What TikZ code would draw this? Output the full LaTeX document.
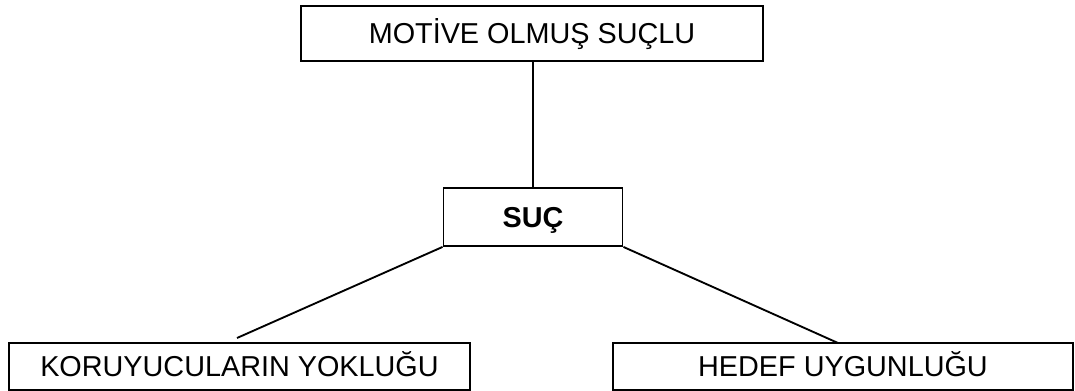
\documentclass[tikz,border=0pt]{standalone}
\usepackage{fontspec}
\setmainfont{Liberation Sans}
\usetikzlibrary{positioning}

\begin{document}
\begin{tikzpicture}
[-,x=0.75pt,y=-0.75pt,%
  lineDecorate/.style={-,line width=1.4pt},%
  boxDecorate/.style={shape=rectangle,draw,line width=1.4pt,inner sep=0pt,
    text height=15.5pt,text depth=0pt,font=\fontsize{21.6}{26}\selectfont},%
]
\useasboundingbox (0,0) rectangle (1075,391);
%% boxes
\node[boxDecorate,minimum width=346.5pt,minimum height=41.25pt] (motive) at (532,33.5) {MOTİVE OLMUŞ SUÇLU};
\node[boxDecorate,minimum width=134.25pt,minimum height=43.5pt,font=\fontsize{21.6}{26}\selectfont\bfseries] (suc) at (533,217) {SUÇ};
\node[boxDecorate,minimum width=345.75pt,minimum height=35.25pt] (koruyucu) at (239.5,366.5) {KORUYUCULARIN YOKLUĞU};
\node[boxDecorate,minimum width=345pt,minimum height=35.25pt] (hedef) at (843,366.5) {HEDEF UYGUNLUĞU};
%% free ends of the slanted lines
\coordinate (koruyucuEnd) at (237,338);
\coordinate (hedefEnd) at (838,343);
%% connect boxes
\path
(suc.north |- motive.south) edge[lineDecorate] (suc.north)
(suc.south west) edge[lineDecorate] (koruyucuEnd)
(suc.south east) edge[lineDecorate] (hedefEnd);
\end{tikzpicture}
\end{document}
